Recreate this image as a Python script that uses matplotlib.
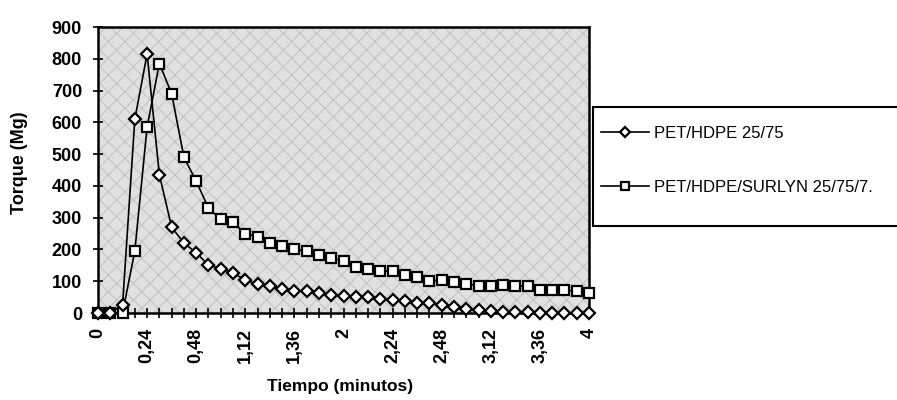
import matplotlib
matplotlib.use("Agg")
import matplotlib.pyplot as plt
from matplotlib.patches import Rectangle
import numpy as np

plt.rcParams['font.family'] = ['Liberation Sans', 'DejaVu Sans']
plt.rcParams['hatch.linewidth'] = 0.6

# time categories, every 6 s from 0 to 4 min (label shown every 4th point)
tick_labels = ["0", "0,24", "0,48", "1,12", "1,36", "2", "2,24", "2,48", "3,12", "3,36", "4"]

pet_hdpe = [0, 0, 25, 610, 815, 435, 270, 220, 190, 150, 140, 125, 105, 90, 85, 75,
            70, 68, 62, 58, 55, 50, 50, 43, 40, 37, 32, 33, 25, 20, 12, 8, 5, 4, 3, 2,
            1, 0, 0, 0, 0]
pet_hdpe_surlyn = [0, 0, 0, 195, 585, 785, 690, 490, 415, 330, 295, 285, 250, 240, 220,
                   210, 200, 195, 182, 172, 165, 145, 137, 132, 132, 120, 113, 102, 103,
                   98, 92, 86, 85, 87, 85, 85, 73, 73, 73, 68, 62]

labels = ["PET/HDPE 25/75", "PET/HDPE/SURLYN 25/75/7."]

W, H = 897, 400
fig = plt.figure(figsize=(W / 100, H / 100), dpi=100)
fig.patch.set_facecolor("white")
ax = fig.add_axes([98 / W, 1 - 313 / H, 491 / W, 286 / H])
ax.set_facecolor("#e0e0e0")
ax.patch.set_hatch("xx")
ax.patch.set_edgecolor("#bdbdbd")

x = np.arange(len(pet_hdpe))
l1, = ax.plot(x, pet_hdpe, color="black", lw=1.2, marker="D", markersize=6.5,
              markerfacecolor="white", markeredgecolor="black", markeredgewidth=1.6,
              clip_on=False, zorder=4, label=labels[0])
l2, = ax.plot(x, pet_hdpe_surlyn, color="black", lw=1.2, marker="s", markersize=7.5,
              markerfacecolor="white", markeredgecolor="black", markeredgewidth=1.6,
              clip_on=False, zorder=3, label=labels[1])

ax.set_xlim(0, len(x) - 1)
ax.set_ylim(0, 900)
ax.set_yticks(np.arange(0, 901, 100))
ax.set_xticks(np.arange(0, len(x), 4))
ax.set_xticklabels(tick_labels, rotation=90)
ax.set_xticks(np.arange(0, len(x), 1), minor=True)

for s in ax.spines.values():
    s.set_linewidth(1.8)
    s.set_color("black")

ax.tick_params(axis="both", which="both", direction="inout", width=1.2, color="black")
ax.tick_params(axis="x", which="major", length=7, labelsize=13, pad=7.5)
ax.tick_params(axis="x", which="minor", length=7)
ax.tick_params(axis="y", which="major", length=7, labelsize=13, pad=8)
for t in ax.get_xticklabels() + ax.get_yticklabels():
    t.set_fontweight("bold")

fig.text(19 / W, 1 - 163 / H, "Torque (Mg)", rotation=90, ha="center", va="center",
         fontsize=13, fontweight="bold")
fig.text(340 / W, 1 - 387 / H, "Tiempo (minutos)", ha="center", va="center",
         fontsize=12.5, fontweight="bold")

# legend frame drawn separately (unequal top/bottom padding in the reference)
fig.patches.append(Rectangle((593 / W, 1 - 226 / H), 310 / W, 119 / H,
                             transform=fig.transFigure, facecolor="white",
                             edgecolor="black", linewidth=1.5, zorder=1))
leg = fig.legend(handles=[l1, l2], labels=labels, loc="upper left",
                 bbox_to_anchor=(601 / W, 1 - 126 / H),
                 bbox_transform=fig.transFigure, borderaxespad=0,
                 frameon=False, fontsize=12, handlelength=2.9,
                 handletextpad=0.3, borderpad=0.0, labelspacing=2.35, markerscale=0.8)
leg.set_zorder(5)

fig.savefig("out.png", dpi=100)
